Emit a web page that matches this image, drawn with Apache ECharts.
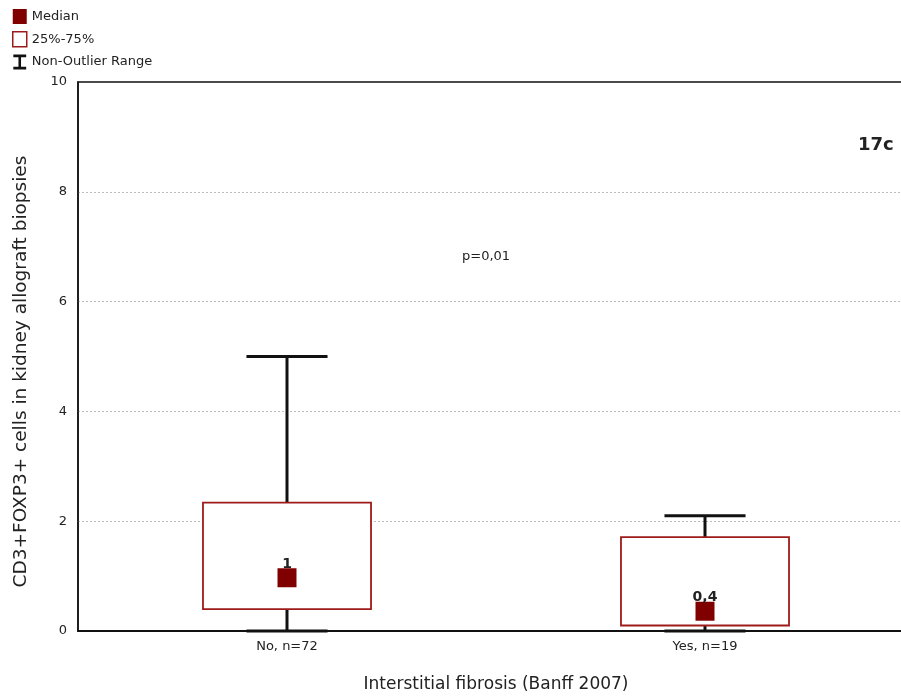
<!DOCTYPE html>
<html>
<head>
<meta charset="utf-8">
<script src="https://cdn.jsdelivr.net/npm/echarts@6/dist/echarts.min.js"></script>
<style>
html,body{margin:0;padding:0;background:#fff;}
#chart{width:901px;height:698px;}
</style>
</head>
<body>
<div id="chart"></div>
<script>
// ---- data ----
const categories = ['No, n=72', 'Yes, n=19'];
const mins = [0, 0];
const q1 = [0.4, 0.1];
const medians = [0.97, 0.36];
const medianLabels = ['1', '0,4'];
const q3 = [2.34, 1.71];
const maxs = [5, 2.1];
const yTicks = [0, 2, 4, 6, 8, 10];

const FONT = '"DejaVu Sans", Arial, sans-serif';
const BOX_RED = '#9e1b1b';
const MED_RED = '#800000';

const boxData = categories.map((c, i) => [i, mins[i], q1[i], q3[i], maxs[i]]);
const medData = categories.map((c, i) => [i, medians[i]]);

const chart = echarts.init(document.getElementById('chart'), null, {renderer: 'canvas'});

function whiskerItem(params, api) {
  const x = api.value(0);
  const pMin = api.coord([x, api.value(1)]);
  const pQ1 = api.coord([x, api.value(2)]);
  const pQ3 = api.coord([x, api.value(3)]);
  const pMax = api.coord([x, api.value(4)]);
  const band = api.size([1, 0])[0];
  const capW = band * 0.194;
  const st = {stroke: '#111', lineWidth: 3};
  return {
    type: 'group',
    children: [
      {type: 'line', shape: {x1: pMax[0], y1: pMax[1], x2: pQ3[0], y2: pQ3[1]}, style: st},
      {type: 'line', shape: {x1: pQ1[0], y1: pQ1[1], x2: pMin[0], y2: pMin[1]}, style: st},
      {type: 'line', shape: {x1: pMax[0] - capW / 2, y1: pMax[1], x2: pMax[0] + capW / 2, y2: pMax[1]}, style: st},
      {type: 'line', shape: {x1: pMin[0] - capW / 2, y1: pMin[1], x2: pMin[0] + capW / 2, y2: pMin[1]}, style: st}
    ]
  };
}

function boxItem(params, api) {
  const x = api.value(0);
  const pQ1 = api.coord([x, api.value(2)]);
  const pQ3 = api.coord([x, api.value(3)]);
  const band = api.size([1, 0])[0];
  const boxW = band * 0.402;
  return {
    type: 'rect',
    shape: {x: pQ3[0] - boxW / 2, y: pQ3[1], width: boxW, height: pQ1[1] - pQ3[1]},
    style: {fill: '#fff', stroke: BOX_RED, lineWidth: 1.8}
  };
}

const option = {
  backgroundColor: '#fff',
  animation: false,
  textStyle: {fontFamily: FONT},
  legend: {
    orient: 'vertical',
    left: 7,
    top: 4,
    itemWidth: 14,
    itemHeight: 15,
    itemGap: 7,
    selectedMode: false,
    textStyle: {fontFamily: FONT, fontSize: 13, color: '#222'},
    data: [
      {name: 'Median', icon: 'rect', itemStyle: {color: MED_RED, opacity: 1}},
      {name: '25%-75%', icon: 'rect', itemStyle: {color: '#fff', borderColor: BOX_RED, borderWidth: 1.5}},
      {name: 'Non-Outlier Range', icon: 'path://M0,0 L12,0 L12,2.5 L7.2,2.5 L7.2,11.5 L12,11.5 L12,14 L0,14 L0,11.5 L4.8,11.5 L4.8,2.5 L0,2.5 Z', itemStyle: {color: '#111'}}
    ]
  },
  grid: {left: 78, top: 82, width: 836, height: 549, outerBoundsMode: 'none', containLabel: false,
    show: true, borderColor: '#111', borderWidth: 1.5, backgroundColor: 'transparent'},
  xAxis: {
    type: 'category',
    data: categories,
    boundaryGap: true,
    name: 'Interstitial fibrosis (Banff 2007)',
    nameLocation: 'middle',
    nameGap: 45,
    nameTextStyle: {fontFamily: FONT, fontSize: 17, color: '#222'},
    axisLine: {show: true, lineStyle: {color: '#111', width: 2}},
    axisTick: {show: false},
    axisLabel: {fontFamily: FONT, fontSize: 13, color: '#222', margin: 9},
    splitLine: {show: false}
  },
  yAxis: {
    type: 'value',
    min: 0,
    max: 10,
    interval: 2,
    name: 'CD3+FOXP3+ cells in kidney allograft biopsies',
    nameLocation: 'middle',
    nameGap: 47,
    nameRotate: 90,
    nameTextStyle: {fontFamily: FONT, fontSize: 18.5, color: '#222', padding: [0, 30, 0, 0]},
    axisLine: {show: true, lineStyle: {color: '#111', width: 1.5}},
    axisTick: {show: false},
    axisLabel: {fontFamily: FONT, fontSize: 13, color: '#222', margin: 11,
      formatter: v => (yTicks.indexOf(v) >= 0 ? String(v) : '')},
    splitLine: {show: true, showMinLine: false, showMaxLine: false, lineStyle: {color: '#bbb', type: [2, 2], width: 1}}
  },
  graphic: [
    {type: 'text', left: 858, top: 136, z: 10, style: {text: '17c', font: 'bold 18px ' + FONT, fill: '#222'}},
    {type: 'text', left: 462, top: 250, z: 10, style: {text: 'p=0,01', font: '13px ' + FONT, fill: '#222'}}
  ],
  series: [
    {
      name: 'Non-Outlier Range',
      type: 'custom',
      renderItem: whiskerItem,
      encode: {x: 0, y: [1, 2, 3, 4]},
      data: boxData,
      z: 2,
      itemStyle: {color: '#111'}
    },
    {
      name: '25%-75%',
      type: 'custom',
      renderItem: boxItem,
      encode: {x: 0, y: [1, 2, 3, 4]},
      data: boxData,
      z: 3,
      itemStyle: {color: '#fff', borderColor: BOX_RED}
    },
    {
      name: 'Median',
      type: 'scatter',
      symbol: 'rect',
      symbolSize: 19,
      data: medData,
      z: 4,
      itemStyle: {color: MED_RED, opacity: 1},
      label: {
        show: true,
        position: 'top',
        distance: -3,
        fontFamily: FONT,
        fontSize: 14,
        fontWeight: 'bold',
        color: '#222',
        opacity: 1,
        formatter: p => medianLabels[p.dataIndex]
      }
    }
  ]
};

chart.setOption(option);
</script>
</body>
</html>
